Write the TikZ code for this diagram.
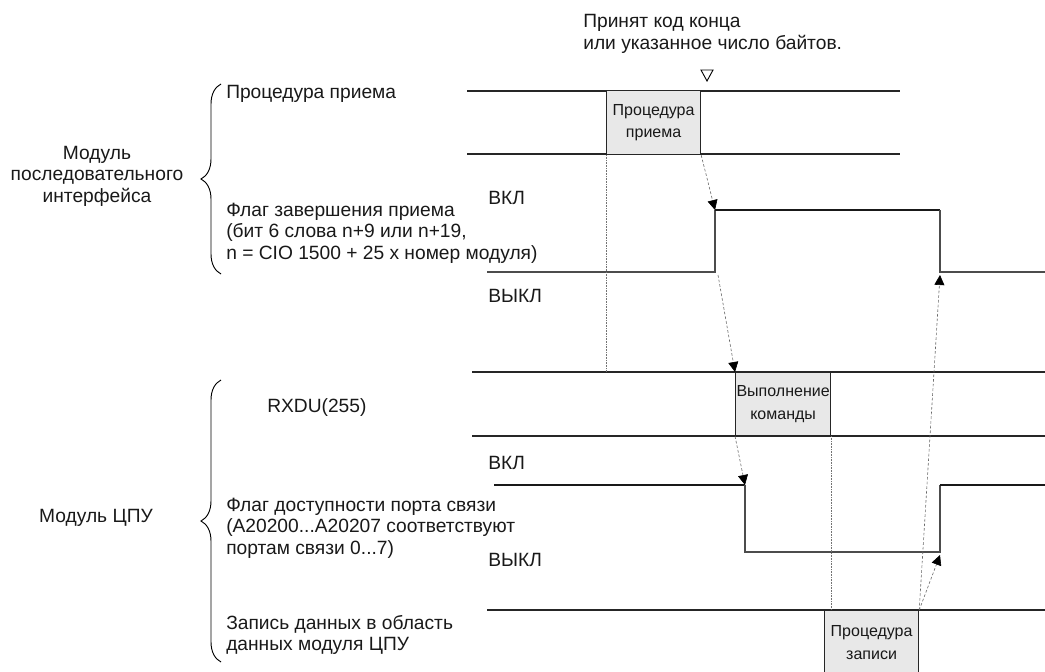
\documentclass[tikz,border=0pt]{standalone}
\usepackage{fontspec}
\setmainfont{Liberation Sans}
\usetikzlibrary{arrows.meta}
\usetikzlibrary{decorations.pathreplacing}

\begin{document}
\begin{tikzpicture}[x=0.75pt, y=-0.75pt,
    every node/.style={font=\fontsize{14.4}{16.1}\selectfont, inner sep=0pt, text=black!90},
    track/.style={line width=0.8pt, draw=black!85},
    lo/.style={line width=0.8pt, draw=black!70},
    hi/.style={line width=1.9pt, draw=black!90},
    box/.style={draw=black!85, line width=0.9pt, fill=black!9, align=center, anchor=north west,
      font=\fontsize{12}{17}\selectfont},
    cause/.style={-{Triangle[length=7.5pt, width=7.5pt, black]}, dash pattern=on 2pt off 1.5pt,
      line width=0.45pt, draw=black!60},
    guide/.style={dash pattern=on 0.6pt off 0.6pt, line width=0.4pt, draw=black!55},
    grp/.style={decorate, decoration={brace, amplitude=15pt}, line width=0.7pt}]
  \clip (0,0) rectangle (1045,671);

  % lanes
  \draw[track] (467,91) -- (900,91);
  \draw[track] (467,154) -- (900,154);
  \draw[track] (472,372) -- (1045,372);
  \draw[track] (472,436) -- (1045,436);
  \draw[track] (487,610) -- (1045,610);

  % completion flag
  \coordinate (cf0) at (487,272);
  \coordinate (cflo) at (715,272);
  \coordinate (cfup) at (715,210);
  \coordinate (cfdn) at (940,210);
  \coordinate (cfend) at (940,272);
  \coordinate (cf1) at (1045,272);
  \draw[lo] (cf0) -- (cflo) -- (cfup);
  \draw[hi] (cfup) -- (cfdn);
  \draw[lo] (cfdn) -- (cfend) -- (cf1);

  % port flag
  \coordinate (pf0) at (494,485);
  \coordinate (pfdn) at (745,485);
  \coordinate (pflo) at (745,552);
  \coordinate (pfup) at (940,552);
  \coordinate (pfhi) at (940,485);
  \coordinate (pf1) at (1045,485);
  \draw[hi] (pf0) -- (pfdn);
  \draw[lo] (pfdn) -- (pflo) -- (pfup) -- (pfhi);
  \draw[hi] (pfhi) -- (pf1);

  \node[box, minimum width=70.5pt, minimum height=48pt] (rbox) at (606,90) {Процедура\\приема};
  \node[box, minimum width=71.25pt, minimum height=47.25pt] (xbox) at (735,372) {Выполнение\\команды};
  \node[box, minimum width=70.5pt, minimum height=48pt] (wbox) at (824,610) {Процедура\\записи};

  \draw[guide] (rbox.south west) -- (rbox.south west |- xbox.north);
  \draw[guide] (xbox.south east) -- (xbox.south east |- wbox.north);

  \draw[cause] (rbox.south east) -- (cfup);
  \draw[cause] ([shift={(3,3)}]cflo) -- (xbox.north west);
  \draw[cause] (xbox.south west) -- (pfdn);
  \draw[cause] (wbox.north east) -- ([shift={(0,3)}]pfup);
  \draw[cause] (wbox.north east) -- ([shift={(0,3)}]cfend);

  \node[anchor=west, align=left, font=\fontsize{14.4}{17}\selectfont] (done) at (583,34)
    {Принят код конца\\или указанное число байтов.};
  \draw[line width=0.7pt] (701,70) -- (713,70) -- (707,81) -- cycle;

  \node[anchor=west] (on1) at (488,198) {ВКЛ};
  \node[anchor=west] (off1) at (488,296) {ВЫКЛ};
  \node[anchor=west] (on2) at (488,463) {ВКЛ};
  \node[anchor=west] (off2) at (488,560) {ВЫКЛ};

  % serial module
  \draw[grp] (221,274) -- (221,84);
  \node[align=center] (sermod) at (97,176) {Модуль\\последовательного\\интерфейса};
  \node[anchor=west] (rproc) at (226,94) {Процедура приема};
  \node[anchor=west, align=left] (rflag) at (226,233)
    {Флаг завершения приема\\(бит 6 слова n+9 или n+19,\\n = CIO 1500 + 25 x номер модуля)};

  % CPU module
  \draw[grp] (221,662) -- (221,380);
  \node (cpumod) at (96,518) {Модуль ЦПУ};
  \node[anchor=west] (rxdu) at (267,408) {RXDU(255)};
  \node[anchor=west, align=left] (pflag) at (226,528)
    {Флаг доступности порта связи\\(A20200...A20207 соответствуют\\портам связи 0...7)};
  \node[anchor=west, align=left] (wdata) at (226,635)
    {Запись данных в область\\данных модуля ЦПУ};
\end{tikzpicture}
\end{document}
